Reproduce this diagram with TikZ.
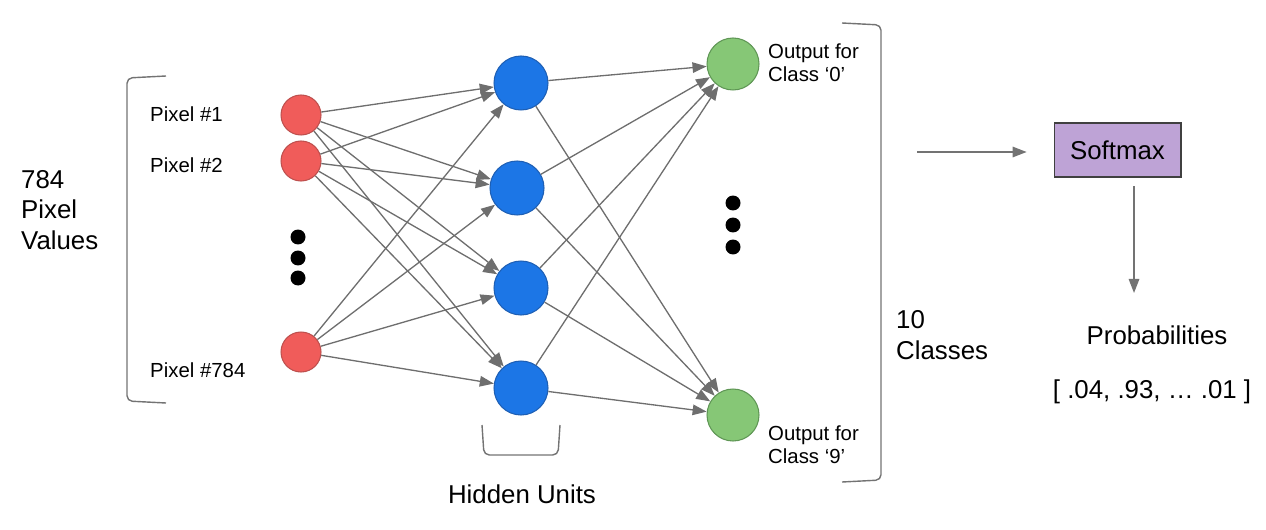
\documentclass[tikz,border=0pt]{standalone}
\usepackage{fontspec}
\setmainfont{Liberation Sans}
\usetikzlibrary{arrows.meta}

\definecolor{inred}{RGB}{240,92,90}
\definecolor{inredline}{RGB}{190,80,78}
\definecolor{hidblue}{RGB}{28,118,230}
\definecolor{hidblueline}{RGB}{30,95,180}
\definecolor{outgreen}{RGB}{134,199,118}
\definecolor{outgreenline}{RGB}{95,150,85}
\definecolor{softlilac}{RGB}{190,163,214}

\begin{document}
\begin{tikzpicture}[
  x=0.02cm, y=-0.02cm,
  >={Triangle[length=8pt,width=6pt]},
  link/.style={black!57,line width=0.75pt},
  bracket/.style={draw=black!55,line width=0.8pt,rounded corners=3pt},
  flow/.style={black!55,->,line width=0.8pt},
  inunit/.style={circle,fill=inred,draw=inredline,line width=0.6pt,minimum size=0.8cm,inner sep=0pt},
  hidunit/.style={circle,fill=hidblue,draw=hidblueline,line width=0.6pt,minimum size=1.08cm,inner sep=0pt},
  outunit/.style={circle,fill=outgreen,draw=outgreenline,line width=0.6pt,minimum size=1.04cm,inner sep=0pt},
  big/.style={font=\fontsize{14.7}{17.2}\selectfont},
  small/.style={font=\fontsize{11.6}{13}\selectfont}
]
  \useasboundingbox (0,0) rectangle (1266,530);

  % input layer
  \node[inunit] (in1) at (301,115) {};
  \node[inunit] (in2) at (301,161) {};
  \node[inunit] (in3) at (301,352) {};
  \foreach \y in {237,258,278} \fill (298,\y) circle (0.15cm);
  \node[small,anchor=west] (lab1) at (144,114) {Pixel \#1};
  \node[small,anchor=west] (lab2) at (144,165) {Pixel \#2};
  \node[small,anchor=west] (lab3) at (144,370) {Pixel \#784};
  \draw[bracket] (166,76) -- (127,78) -- (127,401) -- (166,403);
  \node[big,anchor=west,align=left] (pixvals) at (15,210) {784\\Pixel\\Values};

  % hidden layer
  \node[hidunit] (h1) at (521,83) {};
  \node[hidunit] (h2) at (517,188) {};
  \node[hidunit] (h3) at (521,288) {};
  \node[hidunit] (h4) at (521,388) {};
  \draw[bracket] (482,425) -- (484,455) -- (558,455) -- (560,425);
  \node[big] (hidlab) at (522,494) {Hidden Units};

  % output layer
  \node[outunit] (out0) at (733,64) {};
  \node[outunit] (out9) at (733,415) {};
  \foreach \y in {203,225,247} \fill (733,\y) circle (0.15cm);
  \node[small,anchor=west,align=left] (olab0) at (762,63) {Output for\\Class `0'};
  \node[small,anchor=west,align=left] (olab9) at (762,445) {Output for\\Class `9'};
  \draw[bracket] (842,23) -- (881,25) -- (881,480) -- (842,482);
  \node[big,anchor=west,align=left] (classes) at (890,335) {10\\Classes};

  % connections
  \foreach \i in {in1,in2,in3}
    \foreach \j in {h1,h2,h3,h4}
      \draw[link,->] (\i) -- (\j);
  \foreach \j in {h1,h2,h3,h4}
    \foreach \k in {out0,out9}
      \draw[link,->] (\j) -- (\k);

  % softmax
  \node[draw=black!75,fill=softlilac,line width=0.6pt,minimum width=2.54cm,minimum height=1.08cm,big] (soft) at (1117.5,150) {Softmax};
  \coordinate (tosoft) at (917,152);
  \draw[flow] (tosoft) -- ([xshift=-15.3pt]soft.west |- tosoft);
  \node[big] (prob) at (1157,335) {Probabilities};
  \node[big] (probvals) at (1152,392) {[ .04, .93, \dots{} .01 ]};
  \coordinate (probtip) at (1134,293);
  \draw[flow] ([yshift=-5pt]soft.south -| probtip) -- (probtip);
\end{tikzpicture}
\end{document}
